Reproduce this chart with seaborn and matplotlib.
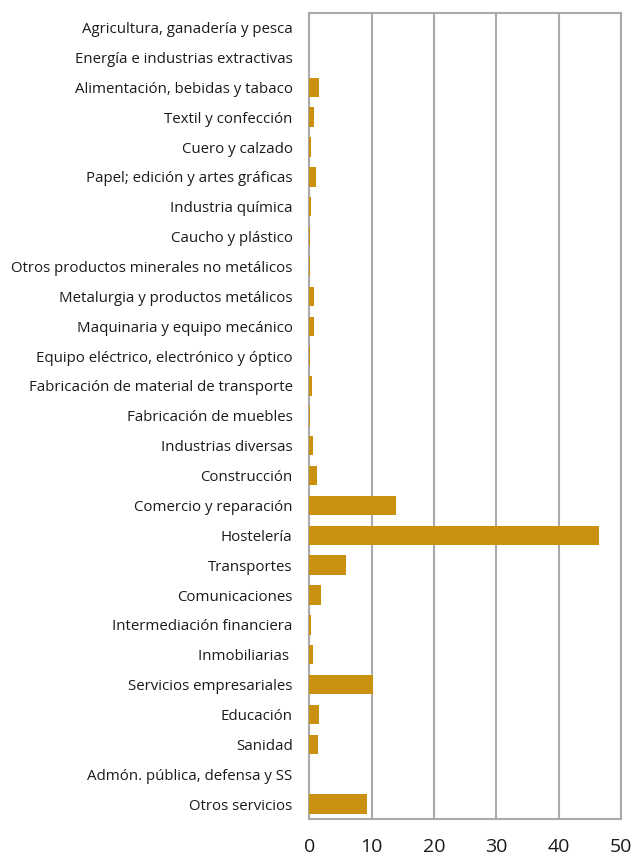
import matplotlib
matplotlib.use("Agg")
import matplotlib.pyplot as plt
import seaborn as sns
import pandas as pd

sectores = [
    "Agricultura, ganadería y pesca",
    "Energía e industrias extractivas",
    "Alimentación, bebidas y tabaco",
    "Textil y confección",
    "Cuero y calzado",
    "Papel; edición y artes gráficas",
    "Industria química",
    "Caucho y plástico",
    "Otros productos minerales no metálicos",
    "Metalurgia y productos metálicos",
    "Maquinaria y equipo mecánico",
    "Equipo eléctrico, electrónico y óptico",
    "Fabricación de material de transporte",
    "Fabricación de muebles",
    "Industrias diversas",
    "Construcción",
    "Comercio y reparación",
    "Hostelería",
    "Transportes",
    "Comunicaciones",
    "Intermediación financiera",
    "Inmobiliarias ",
    "Servicios empresariales",
    "Educación",
    "Sanidad",
    "Admón. pública, defensa y SS",
    "Otros servicios",
]
valores = [0.0, 0.0, 1.5, 0.8, 0.25, 1.0, 0.2, 0.15, 0.15, 0.75, 0.7, 0.1,
           0.4, 0.1, 0.55, 1.2, 13.9, 46.5, 5.9, 1.9, 0.2, 0.65, 10.2, 1.5,
           1.4, 0.0, 9.3]
x_ticks = [0, 10, 20, 30, 40, 50]

df = pd.DataFrame({"sector": sectores, "valor": valores})

sns.set_theme(style="white")
plt.rcParams["font.family"] = ["Open Sans", "DejaVu Sans"]

fig = plt.figure(figsize=(6.33, 8.61), dpi=100)
ax = fig.add_axes([0.4886, 0.0488, 0.4925, 0.9365])

sns.barplot(data=df, x="valor", y="sector", orient="h", color="#C9910F",
            saturation=1, width=0.65, linewidth=0, ax=ax, zorder=3)

ax.set_xlim(0, 50)
ax.set_ylim(len(sectores) - 0.5, -0.5)
ax.set_xticks(x_ticks)
ax.set_xticklabels([str(t) for t in x_ticks], fontsize=14, color="#1a1a1a")
ax.tick_params(axis="x", length=0, pad=14)
ax.tick_params(axis="y", length=0, pad=12, labelsize=10.8, labelcolor="#1a1a1a")
ax.set_xlabel("")
ax.set_ylabel("")

ax.grid(axis="x", color="#AAAAAA", linewidth=1.5, zorder=0)
ax.grid(axis="y", visible=False)
for side in ["left", "bottom", "top", "right"]:
    ax.spines[side].set_visible(True)
    ax.spines[side].set_color("#AAAAAA")
    ax.spines[side].set_linewidth(1.5)

fig.savefig("out.png", dpi=100)
